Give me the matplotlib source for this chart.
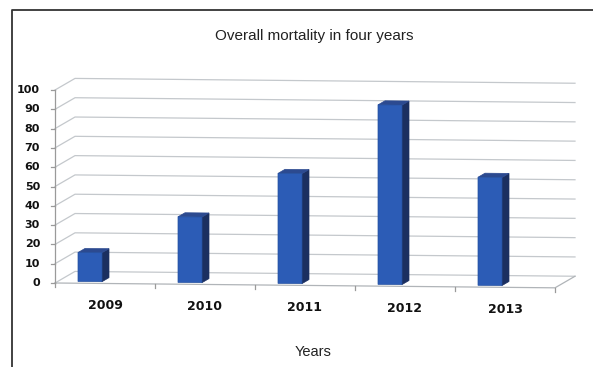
import matplotlib.pyplot as plt
from matplotlib.patches import Polygon
from matplotlib.lines import Line2D

years = ['2009', '2010', '2011', '2012', '2013']
mortality = [15, 34, 57, 93, 56]
y_ticks = list(range(0, 101, 10))

# fake 3D: depth shift (category units, value units) and a slight downward tilt to the right
DX, DY, SH = 0.2, 6.0, -0.5


def proj(x, v, d):
    return x + d * DX, v + d * DY + x * SH


def main():
    W, H = 593, 367
    fig = plt.figure(figsize=(W / 100, H / 100), dpi=100)
    ax = fig.add_axes([55 / W, (H - 283) / H, 500 / W, 193 / H])
    ax.set_xlim(0, 5)
    ax.set_ylim(0, 100)
    ax.axis('off')
    n = len(years)

    grid = '#c4c8cc'
    # back wall + left wall gridlines
    for v in y_ticks:
        pts = [proj(0, v, 0), proj(0, v, 1), proj(n, v, 1)]
        ax.plot([p[0] for p in pts], [p[1] for p in pts], color=grid, lw=0.9,
                clip_on=False, zorder=1)
    # floor front and right edges
    pts = [proj(0, 0, 0), proj(n, 0, 0), proj(n, 0, 1)]
    ax.plot([p[0] for p in pts], [p[1] for p in pts], color='#b0b4b8', lw=0.9,
            clip_on=False, zorder=1)

    # value axis
    ax.plot([0, 0], [0, 100], color='#9a9a9a', lw=0.9, clip_on=False, zorder=2)
    for v in y_ticks:
        ax.plot([-0.04, 0], [v, v], color='#9a9a9a', lw=0.9, clip_on=False)
        ax.text(-0.15, v, str(v), ha='right', va='center', fontsize=8,
                fontweight='bold', family='DejaVu Sans', color='#111111')

    # category ticks and labels
    for i in range(n + 1):
        x, y = proj(i, 0, 0)
        ax.plot([x, x], [y, y - 2], color='#9a9a9a', lw=0.9, clip_on=False)
    for i, lab in enumerate(years):
        x, y = proj(i + 0.5, 0, 0)
        ax.text(x, y - 11.5, lab, ha='center', va='center', fontsize=9,
                fontweight='bold', family='DejaVu Sans', color='#111111')

    # 3D columns
    for i, v in enumerate(mortality):
        x0, x1, d0, d1 = i + 0.2, i + 0.44, 0.15, 0.5
        front = [proj(x0, 0, d0), proj(x1, 0, d0), proj(x1, v, d0), proj(x0, v, d0)]
        side = [proj(x1, 0, d0), proj(x1, 0, d1), proj(x1, v, d1), proj(x1, v, d0)]
        top = [proj(x0, v, d0), proj(x1, v, d0), proj(x1, v, d1), proj(x0, v, d1)]
        ax.add_patch(Polygon(side, closed=True, fc='#1b2f60', ec='#1b2f60', lw=0.5,
                             clip_on=False, zorder=3))
        ax.add_patch(Polygon(top, closed=True, fc='#2c4a90', ec='#2c4a90', lw=0.5,
                             clip_on=False, zorder=3))
        ax.add_patch(Polygon(front, closed=True, fc='#2c5cb6', ec='#24509f', lw=0.5,
                             clip_on=False, zorder=4))

    fig.text(314 / W, 1 - 36 / H, 'Overall mortality in four years', ha='center',
             va='center', fontsize=11, family='Liberation Sans', color='#222222')
    fig.text(313 / W, 1 - 352 / H, 'Years', ha='center', va='center',
             fontsize=10.5, family='Liberation Sans', color='#222222')

    # outer frame (left and top edges)
    fig.add_artist(Line2D([12 / W, 12 / W, 1], [0, 1 - 10 / H, 1 - 10 / H],
                          transform=fig.transFigure, color='#333333', lw=1.3))

    fig.savefig('out.png', dpi=100)


if __name__ == '__main__':
    main()
